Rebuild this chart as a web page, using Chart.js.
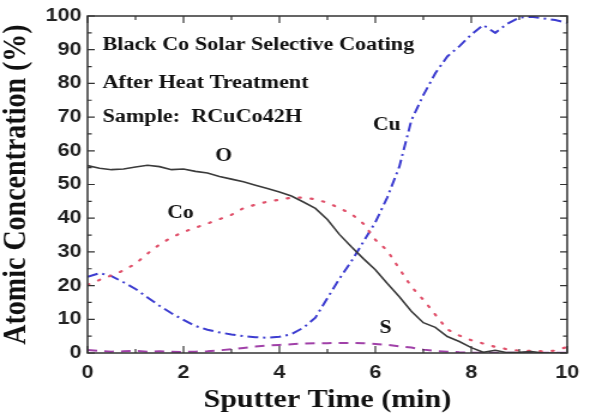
<!DOCTYPE html>
<html>
<head>
<meta charset="utf-8">
<script src="https://cdn.jsdelivr.net/npm/chart.js@4/dist/chart.umd.min.js"></script>
<style>
  html, body { margin: 0; padding: 0; background: #fff; overflow: hidden; }
  #wrap { width: 492px; height: 417px; transform: scaleX(1.1992); transform-origin: 0 0; }
</style>
</head>
<body>
<div id="wrap"><canvas id="myChart" width="492" height="417"></canvas></div>
<script>
// sputter time grid (min)
var time = [0, 0.25, 0.5, 0.75, 1, 1.25, 1.5, 1.75, 2, 2.25, 2.5, 2.75, 3, 3.25, 3.5, 3.75,
    4, 4.25, 4.5, 4.75, 5, 5.25, 5.5, 5.75, 6, 6.25, 6.5, 6.75, 7, 7.25, 7.5, 7.75,
    8, 8.25, 8.5, 8.75, 9, 9.25, 9.5, 9.75, 10]

var oxygen = [55.6, 54.8, 54.4, 54.6, 55.2, 55.7, 55.3, 54.4, 54.6, 53.9, 53.4, 52.4, 51.6, 50.8, 49.8, 48.8,
    47.8, 46.6, 44.8, 42.9, 39.6, 35.2, 31.5, 28.0, 24.7, 20.6, 16.7, 12.4, 9.0, 7.6, 4.9, 3.4,
    1.6, 0.2, 0.8, 0.1, 0.2, 0.4, 0, 0, 0]

var cobalt = [20.2, 21.7, 23.0, 24.5, 26.5, 29.5, 32.2, 34.3, 35.9, 37.2, 38.4, 39.7, 41.0, 43.0, 44.0, 44.9,
    45.5, 46.1, 46.1, 45.6, 44.6, 43.0, 41.3, 38.4, 33.6, 30.4, 25.0, 19.7, 15.8, 11.4, 7.0, 5.2,
    3.8, 2.8, 1.8, 1.1, 0.7, 0.6, 0.5, 0.7, 1.8]

var copper = [22.6, 23.7, 22.8, 21.0, 19.0, 16.5, 14.0, 11.8, 9.8, 8.0, 6.9, 6.1, 5.5, 5.0, 4.7, 4.5,
    4.8, 5.6, 7.5, 10.5, 16.3, 22.0, 27.2, 33.0, 38.8, 46.2, 55.3, 69.0, 76.5, 83.0, 88.0, 91.0,
    94.5, 97.3, 95.0, 97.7, 99.5, 99.8, 99.3, 98.8, 98.0]

var sulfur = [0.9, 0.6, 0.4, 0.5, 0.6, 0.4, 0.5, 0.4, 0.3, 0.4, 0.5, 0.8, 1.1, 1.5, 1.9, 2.2,
    2.4, 2.6, 2.8, 2.9, 2.9, 3.0, 3.0, 2.9, 2.7, 2.4, 2.0, 1.6, 1.0, 0.6, 0.4, 0.2,
    0.1, 0.1, 0.1, 0.1, 0.1, 0.1, 0.1, 0.1, 0.1]

var xTicks = [0, 2, 4, 6, 8, 10]
var yTicks = [0, 10, 20, 30, 40, 50, 60, 70, 80, 90, 100]

var noteLines = ["Black Co Solar Selective Coating", "After Heat Treatment", "Sample:  RCuCo42H"]
var notePos = [[0.31, 91.4], [0.31, 80.1], [0.31, 70.0]]
var curveLabels = ["O", "Co", "Cu", "S"]
var curveLabelPos = [[2.84, 58.5], [1.94, 41.4], [6.24, 67.7], [6.21, 7.3]]

function points(ys) {
    var out = []
    for (var i = 0; i < time.length; i++) out.push({ x: time[i], y: ys[i] })
    return out
}

var serif = '"Liberation Serif", "Times New Roman", serif'
var sans = '"Liberation Sans", Arial, sans-serif'

// frame + inward ticks on all four sides, plus the text notes
var framePlugin = {
    id: 'frame',
    afterDatasetsDraw: function(chart) {
        var ctx = chart.ctx
        var xs = chart.scales.x, ys = chart.scales.y
        var a = chart.chartArea
        ctx.save()
        ctx.strokeStyle = '#333'
        ctx.lineWidth = 1.5
        ctx.strokeRect(a.left, a.top, a.right - a.left, a.bottom - a.top)
        ctx.lineWidth = 1.2
        ctx.beginPath()
        for (var v = 0; v <= 10; v++) {
            var px = xs.getPixelForValue(v)
            var len = v % 2 === 0 ? 7 : 4
            ctx.moveTo(px, a.bottom); ctx.lineTo(px, a.bottom - len)
            ctx.moveTo(px, a.top); ctx.lineTo(px, a.top + len)
        }
        for (var w = 0; w <= 100; w += 5) {
            var py = ys.getPixelForValue(w)
            var l2 = w % 10 === 0 ? 6 : 3.5
            ctx.moveTo(a.left, py); ctx.lineTo(a.left + l2, py)
            ctx.moveTo(a.right, py); ctx.lineTo(a.right - l2, py)
        }
        ctx.stroke()

        ctx.fillStyle = '#111'
        ctx.textBaseline = 'middle'
        ctx.textAlign = 'left'
        ctx.font = 'bold 18.5px ' + serif
        noteLines.forEach(function(t, i) {
            ctx.fillText(t, xs.getPixelForValue(notePos[i][0]), ys.getPixelForValue(notePos[i][1]))
        })
        ctx.textAlign = 'center'
        ctx.font = 'bold 18px ' + serif
        curveLabels.forEach(function(t, i) {
            ctx.fillText(t, xs.getPixelForValue(curveLabelPos[i][0]), ys.getPixelForValue(curveLabelPos[i][1]))
        })
        ctx.restore()
    }
}

var myChart = document.getElementById("myChart").getContext('2d')

var chart = new Chart(myChart, {
    type: 'line',
    data: {
        datasets: [{
                label: "O",
                data: points(oxygen),
                borderColor: "#3a3a3a",
                borderWidth: 1.6
            },
            {
                label: "Co",
                data: points(cobalt),
                borderColor: "#e0506a",
                borderWidth: 2.2,
                borderDash: [1.5, 8.5],
                borderCapStyle: 'round'
            },
            {
                label: "Cu",
                data: points(copper),
                borderColor: "#3c3cd0",
                borderWidth: 2,
                borderDash: [9, 4, 2, 4]
            },
            {
                label: "S",
                data: points(sulfur),
                borderColor: "#a040a8",
                borderWidth: 2,
                borderDash: [8, 6]
            }
        ]
    },
    options: {
        responsive: false,
        animation: false,
        events: [],
        layout: { padding: { left: 0, right: 11, top: 16, bottom: 0 } },
        elements: { point: { radius: 0 }, line: { tension: 0 } },
        plugins: { legend: { display: false }, tooltip: { enabled: false } },
        scales: {
            x: {
                type: 'linear',
                min: 0,
                max: 10,
                afterBuildTicks: function(s) { s.ticks = xTicks.map(function(v) { return { value: v } }) },
                afterFit: function(s) { s.height = 64 },
                grid: { display: false, drawTicks: false },
                border: { display: false },
                ticks: { color: '#222', padding: 9, font: { family: sans, size: 18, weight: 'bold' } },
                title: {
                    display: true,
                    text: 'Sputter Time (min)',
                    color: '#111',
                    padding: { top: 0, bottom: 4 },
                    font: { family: serif, size: 25, weight: 'bold', lineHeight: 1 }
                }
            },
            y: {
                min: 0,
                max: 100,
                afterBuildTicks: function(s) { s.ticks = yTicks.map(function(v) { return { value: v } }) },
                afterFit: function(s) { s.width = 73 },
                grid: { display: false, drawTicks: false },
                border: { display: false },
                ticks: { color: '#222', padding: 5, font: { family: sans, size: 18, weight: 'bold' } },
                title: {
                    display: true,
                    text: 'Atomic Concentration (%)',
                    color: '#111',
                    padding: { top: 0, bottom: 0 },
                    font: { family: serif, size: 28, weight: 'bold', lineHeight: 1 }
                }
            }
        }
    },
    plugins: [framePlugin]
})
</script>
</body>
</html>
